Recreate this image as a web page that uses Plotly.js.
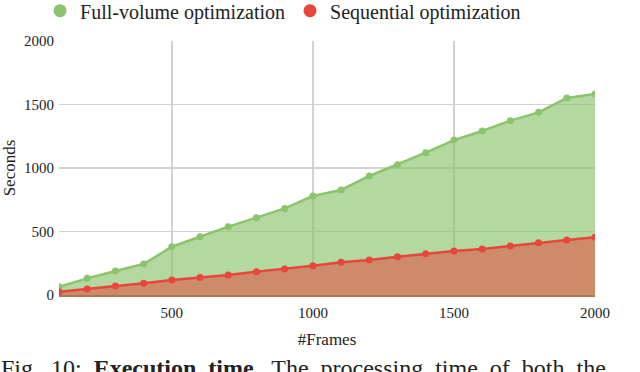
<!DOCTYPE html>
<html><head><meta charset="utf-8">
<script src="https://cdn.plot.ly/plotly-3.0.1.min.js"></script>
<style>html,body{margin:0;padding:0;background:#fff}#chart{width:640px;height:372px}</style>
</head><body><div id="chart"></div>
<script>
const frames = [100,200,300,400,500,600,700,800,900,1000,1100,1200,1300,1400,1500,1600,1700,1800,1900,2000];
const fullVolume = [65,131,189,244,380,459,538,609,682,779,827,937,1026,1121,1220,1291,1373,1438,1551,1583];
const sequential = [26,47,71,92,118,137,157,184,205,231,257,276,302,325,346,362,386,412,433,454];
const seriesNames = ['Full-volume optimization','Sequential optimization'];
const xTicks = [500,1000,1500,2000];
const yTicks = [0,500,1000,1500,2000];

const font = 'Liberation Serif, Times New Roman, serif';
const traces = [
  {x: frames, y: fullVolume, type:'scatter', mode:'lines+markers', fill:'tozeroy',
   fillcolor:'rgba(139,196,110,0.65)', line:{color:'#8cc46e', width:2.5},
   marker:{color:'#8cc46e', size:7}, showlegend:false},
  {x: frames, y: sequential, type:'scatter', mode:'lines+markers', fill:'tozeroy',
   fillcolor:'#cd8b69', line:{color:'#e8453b', width:2.5},
   marker:{color:'#e8453b', size:7}, showlegend:false},
  {x:[null], y:[null], type:'scatter', mode:'markers', name: seriesNames[0],
   marker:{color:'#8cc46e', size:13}},
  {x:[null], y:[null], type:'scatter', mode:'markers', name: seriesNames[1],
   marker:{color:'#e8453b', size:13}}
];
const sp = '&nbsp; ';
const layout = {
  width:640, height:372,
  margin:{l:59, r:45, t:41, b:77, autoexpand:false},
  paper_bgcolor:'#fff', plot_bgcolor:'#fff',
  font:{family:font, color:'#222', size:15},
  showlegend:true,
  legend:{orientation:'h', x:-0.0354, xanchor:'left', y:1.196, yanchor:'top',
          font:{family:font, size:20, color:'#222'}, itemwidth:30, tracegroupgap:0,
          bgcolor:'rgba(0,0,0,0)'},
  xaxis:{range:[100,2000], tickvals:xTicks, ticktext:xTicks.map(String),
         showgrid:true, gridcolor:'#d2d2d2', gridwidth:1.5, zeroline:false,
         showline:true, linecolor:'#b27456', linewidth:2, ticks:'', ticklabelstandoff:3,
         title:{text:'#Frames', font:{family:font, size:17, color:'#222'}, standoff:13},
         tickfont:{family:font, size:15, color:'#222'}},
  yaxis:{range:[0,2000], tickvals:yTicks, ticktext:yTicks.map(String),
         showgrid:true, gridcolor:'#d2d2d2', gridwidth:1.5, zeroline:false,
         showline:false, ticks:'', ticklabelstandoff:4,
         title:{text:'Seconds', font:{family:font, size:17, color:'#222'}, standoff:4},
         tickfont:{family:font, size:15, color:'#222'}},
  annotations:[{
    xref:'paper', yref:'paper', x:-0.112, y:-0.23, xanchor:'left', yanchor:'top',
    showarrow:false, align:'left',
    text:'Fig.'+sp+'10:'+sp+'<b>Execution'+sp+'time</b>.'+sp+'The'+sp+'processing'+sp+'time'+sp+'of'+sp+'both'+sp+'the',
    font:{family:font, size:24, color:'#222'}
  }]
};
Plotly.newPlot('chart', traces, layout, {staticPlot:true});
</script></body></html>
